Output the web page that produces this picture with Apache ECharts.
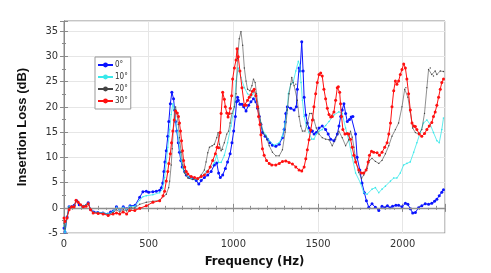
<!DOCTYPE html>
<html><head><meta charset="utf-8">
<script src="https://cdn.jsdelivr.net/npm/echarts@6/dist/echarts.min.js"></script>
<style>html,body{margin:0;padding:0;background:#fff}#c{width:491px;height:273px}</style>
</head><body><div id="c"></div>
<script>
var seriesNames = ['0°', '10°', '20°', '30°'];
var xTicks = [0, 500, 1000, 1500, 2000];
var yTicks = [-5, 0, 5, 10, 15, 20, 25, 30, 35];

var s0 = [[0,-4.0],[6,-4.8],[18,-1.8],[30,0.2],[45,0.2],[60,0.5],[75,1.4],[90,0.6],[115,0.3],[143,1.0],[157,-0.3],[175,-0.8],[200,-0.9],[230,-1.0],[260,-1.2],[275,-0.8],[290,-0.6],[310,0.2],[330,-0.3],[350,0.2],[370,-0.2],[390,0.4],[420,0.5],[447,2.1],[466,3.2],[486,3.3],[500,3.1],[525,3.2],[545,3.3],[565,3.5],[575,4.0],[583,4.9],[590,7.2],[596,9.1],[604,11.3],[613,14.2],[619,17.1],[628,20.6],[637,22.9],[647,21.6],[653,19.4],[659,17.1],[666,15.2],[675,12.9],[682,11.0],[690,9.4],[698,8.1],[712,7.2],[722,6.5],[741,6.0],[761,5.8],[781,5.4],[796,4.7],[810,5.4],[829,6.0],[849,6.5],[869,7.2],[888,8.5],[902,8.9],[913,6.9],[923,6.0],[937,6.5],[953,7.8],[966,9.1],[981,10.7],[992,12.9],[1002,15.2],[1012,18.1],[1019,21.0],[1025,21.9],[1029,21.3],[1039,20.5],[1051,20.5],[1061,20.0],[1075,19.2],[1090,20.3],[1104,21.0],[1119,21.6],[1133,21.0],[1143,19.7],[1153,18.1],[1163,16.5],[1172,14.9],[1188,14.2],[1202,13.6],[1216,12.9],[1231,12.4],[1251,12.2],[1271,12.6],[1290,13.9],[1300,15.5],[1306,17.0],[1310,18.7],[1319,20.0],[1339,19.7],[1359,19.4],[1372,20.0],[1378,23.5],[1388,27.7],[1394,27.1],[1404,32.9],[1412,27.1],[1418,21.9],[1428,18.4],[1437,16.8],[1447,15.8],[1457,15.2],[1467,15.2],[1477,14.6],[1490,14.9],[1506,15.8],[1525,16.2],[1545,15.5],[1560,14.6],[1575,13.6],[1594,13.3],[1614,14.6],[1624,16.2],[1634,18.1],[1643,19.4],[1653,20.6],[1663,18.7],[1673,17.1],[1686,17.5],[1696,18.0],[1706,18.1],[1722,14.6],[1731,10.0],[1747,7.5],[1760,4.9],[1774,3.0],[1786,1.4],[1800,0.1],[1819,0.8],[1839,0.1],[1859,-0.5],[1878,0.3],[1895,0.0],[1910,0.4],[1925,0.0],[1940,0.3],[1960,0.5],[1976,0.5],[1996,0.2],[2016,0.9],[2031,0.7],[2045,-0.2],[2059,-1.0],[2075,-0.9],[2094,0.0],[2113,0.4],[2133,0.8],[2153,0.7],[2172,0.9],[2188,1.3],[2202,1.7],[2216,2.4],[2231,3.1],[2241,3.6]];

var s10 = [[0,-3.5],[6,-4.9],[18,-1.8],[30,0.2],[45,0.2],[60,0.4],[71,1.4],[84,1.0],[98,0.6],[114,0.3],[143,0.9],[157,-0.3],[172,-0.9],[202,-0.9],[231,-1.0],[261,-1.2],[290,-0.7],[310,0.1],[329,-0.4],[349,0.1],[370,-0.3],[388,0.3],[418,0.3],[447,1.5],[466,2.2],[486,2.4],[525,2.6],[565,3.0],[583,3.8],[594,6.0],[604,9.0],[613,12.0],[624,15.5],[633,18.5],[643,20.6],[651,19.5],[659,17.5],[669,15.0],[682,12.0],[692,9.5],[702,7.8],[712,7.0],[731,6.2],[751,5.8],[771,5.6],[790,5.6],[810,6.0],[839,7.2],[869,8.1],[888,8.9],[902,10.4],[913,9.0],[928,9.0],[947,10.4],[966,12.9],[986,16.2],[1006,20.0],[1016,25.1],[1029,27.7],[1045,25.8],[1065,23.8],[1084,22.6],[1104,21.9],[1118,22.9],[1129,22.9],[1143,20.3],[1153,18.1],[1172,15.5],[1192,14.4],[1212,13.3],[1241,12.4],[1271,12.9],[1290,14.2],[1306,16.8],[1319,19.4],[1325,22.6],[1339,24.5],[1353,24.8],[1369,27.1],[1384,29.0],[1392,28.3],[1400,24.8],[1408,21.3],[1418,18.1],[1431,16.2],[1447,14.9],[1463,13.6],[1476,13.6],[1490,14.6],[1506,15.2],[1525,15.5],[1545,16.3],[1565,17.1],[1594,18.4],[1623,19.0],[1643,18.7],[1663,15.8],[1682,13.3],[1702,10.0],[1722,6.9],[1751,4.9],[1770,3.0],[1790,2.7],[1819,3.7],[1839,4.0],[1859,3.0],[1878,3.7],[1898,4.3],[1928,5.3],[1947,5.9],[1966,5.9],[1986,6.9],[2006,8.5],[2025,8.8],[2045,9.1],[2065,11.0],[2084,12.9],[2104,14.9],[2123,16.8],[2143,17.4],[2163,16.5],[2182,14.9],[2202,13.3],[2216,12.9],[2231,15.5],[2241,17.8]];

var s20 = [[0,-3.0],[6,-4.2],[18,-1.8],[30,0.1],[45,0.2],[60,0.4],[71,1.4],[84,1.0],[98,0.6],[114,0.3],[143,0.9],[157,-0.3],[172,-0.9],[202,-1.0],[231,-1.1],[261,-1.3],[290,-0.9],[310,-0.4],[329,-0.8],[349,-0.4],[370,-0.6],[388,0.0],[418,0.0],[447,0.7],[486,1.1],[525,1.3],[565,1.5],[604,2.7],[618,4.0],[624,5.3],[633,8.5],[639,11.7],[647,16.2],[653,19.4],[659,20.0],[666,18.7],[675,16.5],[682,13.9],[692,11.0],[702,8.5],[712,6.9],[731,5.9],[761,5.6],[790,5.7],[810,6.5],[829,7.5],[839,9.1],[849,10.9],[859,12.0],[875,12.3],[888,12.6],[902,13.9],[910,14.9],[918,12.6],[928,11.3],[937,11.6],[947,12.9],[961,14.6],[972,15.2],[981,16.8],[992,18.7],[1006,20.0],[1016,22.6],[1025,29.6],[1035,33.5],[1045,34.9],[1055,32.2],[1065,27.7],[1075,25.1],[1084,23.5],[1098,23.2],[1110,24.2],[1119,25.5],[1129,24.8],[1137,22.6],[1149,19.7],[1163,16.8],[1176,14.9],[1192,14.2],[1212,12.3],[1231,11.0],[1251,10.3],[1271,10.3],[1290,11.5],[1306,15.0],[1319,19.4],[1329,22.6],[1339,24.5],[1345,25.8],[1353,24.8],[1359,24.2],[1369,24.5],[1378,21.3],[1388,18.1],[1398,16.2],[1408,15.2],[1423,15.2],[1437,16.8],[1451,18.7],[1463,18.7],[1476,17.4],[1490,15.8],[1506,14.6],[1525,13.9],[1545,13.6],[1565,13.5],[1584,12.3],[1604,13.6],[1623,15.2],[1643,13.9],[1663,12.3],[1682,13.5],[1692,15.2],[1702,14.0],[1712,12.0],[1722,9.5],[1741,7.0],[1757,5.8],[1770,6.5],[1790,7.8],[1804,9.4],[1819,9.8],[1839,9.2],[1859,8.8],[1878,9.4],[1898,10.7],[1918,12.3],[1937,14.2],[1957,15.5],[1976,16.8],[1996,20.0],[2012,23.5],[2019,23.8],[2031,21.9],[2045,19.0],[2059,15.8],[2075,14.9],[2094,14.6],[2113,15.5],[2129,18.7],[2143,23.8],[2153,27.4],[2163,27.7],[2172,26.4],[2182,26.1],[2192,27.1],[2202,26.4],[2222,27.1],[2241,27.0]];

var s30 = [[0,-2.0],[6,-2.7],[18,-2.0],[30,-0.4],[45,0.2],[60,0.2],[71,1.5],[84,1.1],[98,0.6],[114,0.2],[130,0.3],[143,0.8],[157,-0.4],[172,-1.0],[202,-1.1],[231,-1.2],[261,-1.5],[290,-1.2],[310,-1.0],[329,-1.2],[349,-0.8],[370,-1.2],[388,-0.5],[418,-0.5],[447,-0.1],[486,0.4],[525,1.1],[565,1.4],[585,2.4],[594,3.3],[604,5.3],[613,7.2],[619,8.8],[628,10.7],[635,12.9],[643,15.2],[651,17.4],[659,19.2],[669,18.8],[676,18.1],[682,16.8],[688,15.2],[694,13.3],[700,11.3],[706,9.4],[713,8.1],[722,7.2],[731,6.7],[751,6.2],[771,6.0],[790,5.8],[810,6.2],[829,6.5],[849,7.2],[863,8.1],[878,9.4],[894,10.7],[904,12.0],[913,11.9],[922,14.9],[928,18.7],[937,22.9],[947,21.5],[953,20.0],[961,18.8],[969,18.0],[976,18.7],[982,19.7],[990,22.2],[996,25.5],[1006,27.7],[1016,29.3],[1022,31.5],[1029,29.9],[1039,27.1],[1051,23.8],[1065,20.3],[1075,20.3],[1084,21.3],[1094,21.9],[1104,22.4],[1113,23.1],[1123,23.5],[1133,22.2],[1143,20.0],[1149,18.1],[1157,16.5],[1163,14.5],[1172,11.7],[1182,10.4],[1196,9.4],[1212,8.8],[1227,8.5],[1251,8.5],[1271,8.8],[1290,9.2],[1310,9.3],[1329,9.0],[1349,8.7],[1369,8.1],[1388,7.5],[1404,7.3],[1418,8.1],[1428,9.7],[1437,11.5],[1447,13.5],[1457,15.4],[1467,17.4],[1476,20.0],[1486,22.6],[1496,24.8],[1506,26.4],[1516,26.7],[1525,26.1],[1535,23.5],[1545,21.6],[1555,19.7],[1565,18.5],[1575,18.0],[1584,18.1],[1594,19.0],[1604,21.3],[1614,23.8],[1620,24.0],[1628,22.9],[1633,20.6],[1639,18.1],[1647,15.5],[1659,14.6],[1672,14.7],[1682,14.6],[1692,13.6],[1702,12.0],[1712,10.4],[1722,9.1],[1741,7.5],[1757,6.9],[1770,6.9],[1784,7.5],[1796,9.1],[1804,10.4],[1816,11.2],[1829,11.0],[1849,10.9],[1863,10.4],[1878,11.0],[1894,12.0],[1908,12.9],[1918,14.6],[1928,16.8],[1937,20.0],[1947,23.2],[1957,25.1],[1966,24.5],[1976,25.1],[1986,26.4],[1996,27.4],[2006,28.5],[2016,27.7],[2025,25.5],[2035,22.6],[2045,19.4],[2055,16.8],[2065,16.2],[2075,16.1],[2084,15.5],[2098,14.6],[2113,14.2],[2129,14.7],[2143,15.5],[2157,16.2],[2172,16.9],[2182,18.1],[2192,19.0],[2202,20.3],[2212,21.9],[2222,23.5],[2231,24.8],[2241,25.5]];

var chart = echarts.init(document.getElementById('c'), null, {renderer: 'canvas'});
var narrow = '"Liberation Sans Narrow", "DejaVu Sans Condensed", "Liberation Sans", Arial, sans-serif';
var xFmt = function (v) { return xTicks.indexOf(v) >= 0 ? String(v) : ''; };
var yFmt = function (v) { return yTicks.indexOf(v) >= 0 ? String(v) : ''; };
var frameAxisCommon = {
  axisLine: {show: true, lineStyle: {color: '#8a8a8a', width: 1}},
  axisTick: {show: true, inside: true, length: 4, lineStyle: {color: '#8a8a8a'}}
};
function mk(name, data, color, size, lw, z) {
  return {
    name: name, type: 'line', data: data,
    symbol: 'circle', symbolSize: size, showSymbol: true, showAllSymbol: true,
    lineStyle: {color: color, width: lw}, itemStyle: {color: color},
    emphasis: {disabled: true}, animation: false, z: z
  };
}
var series = [
  mk(seriesNames[0], s0, '#0a14ff', 3, 1, 3),
  mk(seriesNames[1], s10, '#38e8ea', 1.6, 0.8, 4),
  mk(seriesNames[2], s20, '#444444', 1.4, 0.6, 5),
  mk(seriesNames[3], s30, '#ff1010', 3, 1, 6)
];
series[0].markLine = {
  silent: true, symbol: 'none', label: {show: false}, animation: false,
  lineStyle: {color: '#8f8f8f', width: 1.3, type: 'solid'},
  data: [{yAxis: 0}]
};
chart.setOption({
  backgroundColor: '#ffffff',
  animation: false,
  grid: {left: 64, right: 46, top: 21, bottom: 33, show: true, borderColor: '#8a8a8a', borderWidth: 1},
  legend: {
    show: true, orient: 'vertical', left: 95, top: 57,
    itemWidth: 15, itemHeight: 6, itemGap: 4,
    padding: [4, 3, 4, 2], borderColor: '#999', borderWidth: 1, backgroundColor: '#fff',
    textStyle: {fontFamily: narrow, fontSize: 8, color: '#333', padding: [0, 0, 0, -3]},
    data: seriesNames
  },
  xAxis: [
    Object.assign({
      type: 'value', min: 0, max: 2250, interval: 500, position: 'bottom',
      name: 'Frequency (Hz)', nameLocation: 'middle', nameGap: 20,
      nameTextStyle: {fontFamily: narrow, fontWeight: 'bold', fontSize: 13, color: '#111'},
      axisLabel: {formatter: xFmt, fontFamily: narrow, fontSize: 11, color: '#333', margin: 6},
      splitLine: {show: true, lineStyle: {color: '#e6e6e6', width: 1}},
      minorTick: {show: true, splitNumber: 5, length: 2, lineStyle: {color: '#8a8a8a'}}
    }, frameAxisCommon),
    Object.assign({
      type: 'value', min: 0, max: 2250, interval: 500, position: 'top',
      axisLabel: {show: false}, splitLine: {show: false},
      minorTick: {show: true, splitNumber: 10, length: 2, lineStyle: {color: '#8a8a8a'}}
    }, frameAxisCommon)
  ],
  yAxis: [
    Object.assign({
      type: 'value', min: -5, max: 37, interval: 5, position: 'left',
      name: 'Insertion Loss (dB)', nameLocation: 'middle', nameGap: 35, nameRotate: 90,
      nameTextStyle: {fontFamily: '"Liberation Sans", Arial, sans-serif', fontWeight: 'bold', fontSize: 13, color: '#111'},
      axisLabel: {formatter: yFmt, fontFamily: narrow, fontSize: 11, color: '#333', margin: 6},
      splitLine: {show: true, lineStyle: {color: '#e6e6e6', width: 1}},
      minorTick: {show: true, splitNumber: 2, length: 2, lineStyle: {color: '#8a8a8a'}}
    }, frameAxisCommon),
    Object.assign({
      type: 'value', min: -5, max: 37, interval: 5, position: 'right',
      axisLabel: {show: false}, splitLine: {show: false},
      minorTick: {show: true, splitNumber: 2, length: 2, lineStyle: {color: '#8a8a8a'}}
    }, frameAxisCommon)
  ],
  series: series
});
</script></body></html>
